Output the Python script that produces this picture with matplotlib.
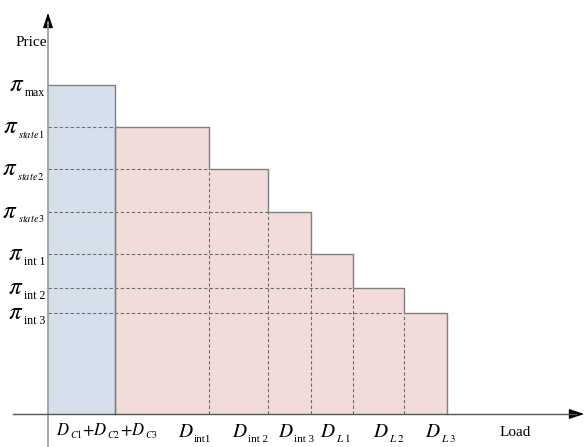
import numpy as np
import matplotlib
matplotlib.use("Agg")
import matplotlib.pyplot as plt
from matplotlib.transforms import offset_copy

# load breakpoints (cumulative), price levels of each block
load_breaks = [0, 67, 161, 220, 262.5, 305, 356, 398.5]
prices = [329, 287, 245, 202.5, 160, 126, 101]

price_subs = ['max', r'$state\,1$', r'$state\,2$', r'$state\,3$', 'int 1', 'int 2', 'int 3']
load_subs = ['int1', 'int 2', 'int 3', r'$L\ 1$', r'$L\ 2$', r'$L\ 3$']
load_label_x = [130, 184, 230, 272, 325, 377]

BLUE = '#d6e0ec'
PINK = '#f2dcdb'
EDGE = '#7f7f7f'
DASH = '#6e6e6e'

plt.rcParams['mathtext.fontset'] = 'stix'
plt.rcParams['font.family'] = ['Liberation Serif', 'DejaVu Serif']

fig = plt.figure(figsize=(5.87, 4.47), dpi=100)
ax = fig.add_axes([0, 0, 1, 1])
ax.set_xlim(-48, 539)
ax.set_ylim(-33, 414)
ax.axis('off')
renderer = fig.canvas.get_renderer()


def rich(x, y, pieces, ha='left'):
    # pieces: (text, fontsize, dy in px) drawn left to right
    arts, widths = [], []
    for s, fs, dy in pieces:
        t = ax.text(x, y + dy, s, fontsize=fs, ha='left', va='baseline')
        widths.append(t.get_window_extent(renderer).width)
        arts.append(t)
    total = sum(widths)
    start = 0 if ha == 'left' else -total
    for t, w in zip(arts, widths):
        t.set_transform(offset_copy(ax.transData, fig, x=start * 72 / fig.dpi,
                                    y=0, units='points'))
        start += w


lefts = np.array(load_breaks[:-1])
widths = np.diff(load_breaks)
colors = [BLUE] + [PINK] * (len(prices) - 1)
ax.bar(lefts, prices, width=widths, align='edge', color=colors, linewidth=0, zorder=1)

# blue block outline
ax.plot([0, load_breaks[1], load_breaks[1]], [prices[0], prices[0], 0], color=EDGE, lw=1, zorder=3)

# pink staircase outline
sx, sy = [load_breaks[1]], [0]
for i in range(1, len(prices)):
    sx += [load_breaks[i], load_breaks[i + 1]]
    sy += [prices[i], prices[i]]
sx.append(load_breaks[-1])
sy.append(0)
ax.plot(sx, sy, color=EDGE, lw=1, zorder=3)

# dashed guides
for i in range(1, len(prices)):
    ax.plot([0, load_breaks[i]], [prices[i], prices[i]], color=DASH, lw=0.8,
            ls=(0, (3, 2)), zorder=2)
for i in range(2, len(prices)):
    ax.plot([load_breaks[i], load_breaks[i]], [0, prices[i]], color=DASH, lw=0.8,
            ls=(0, (3, 2)), zorder=2)

# axes
ax.plot([0, 0], [-32, 392], color='#9a9a9a', lw=1.2, zorder=4)
ax.annotate('', xy=(0, 404), xytext=(0, 390),
            arrowprops=dict(arrowstyle='-|>,head_length=0.9,head_width=0.3', color='black', lw=1))
ax.plot([-35, 528], [0, 0], color='#555555', lw=1, zorder=4)
ax.annotate('', xy=(539, 0), xytext=(526, 0),
            arrowprops=dict(arrowstyle='-|>,head_length=0.9,head_width=0.3', color='black', lw=1))

# price labels
for p, sub in zip(prices, price_subs):
    size = 7.5 if 'state' in sub else 8.5
    rich(-3, p - 6, [(r'$\pi$', 18, 0), (sub, size, -5)], ha='right')

# load labels
rich(8, -21, [(r'$D$', 12, 0), (r'$C1$', 7, -3), (r'$+D$', 12, 0), (r'$C2$', 7, -3),
              (r'$+D$', 12, 0), (r'$C3$', 7, -3)])
for x, sub in zip(load_label_x, load_subs):
    rich(x, -23, [(r'$D$', 14, 0), (sub, 8, -5)])

ax.text(-17, 371, 'Price', ha='center', va='center', fontsize=11)
ax.text(467, -18, 'Load', ha='center', va='center', fontsize=11)

fig.savefig('out.png', dpi=100)
